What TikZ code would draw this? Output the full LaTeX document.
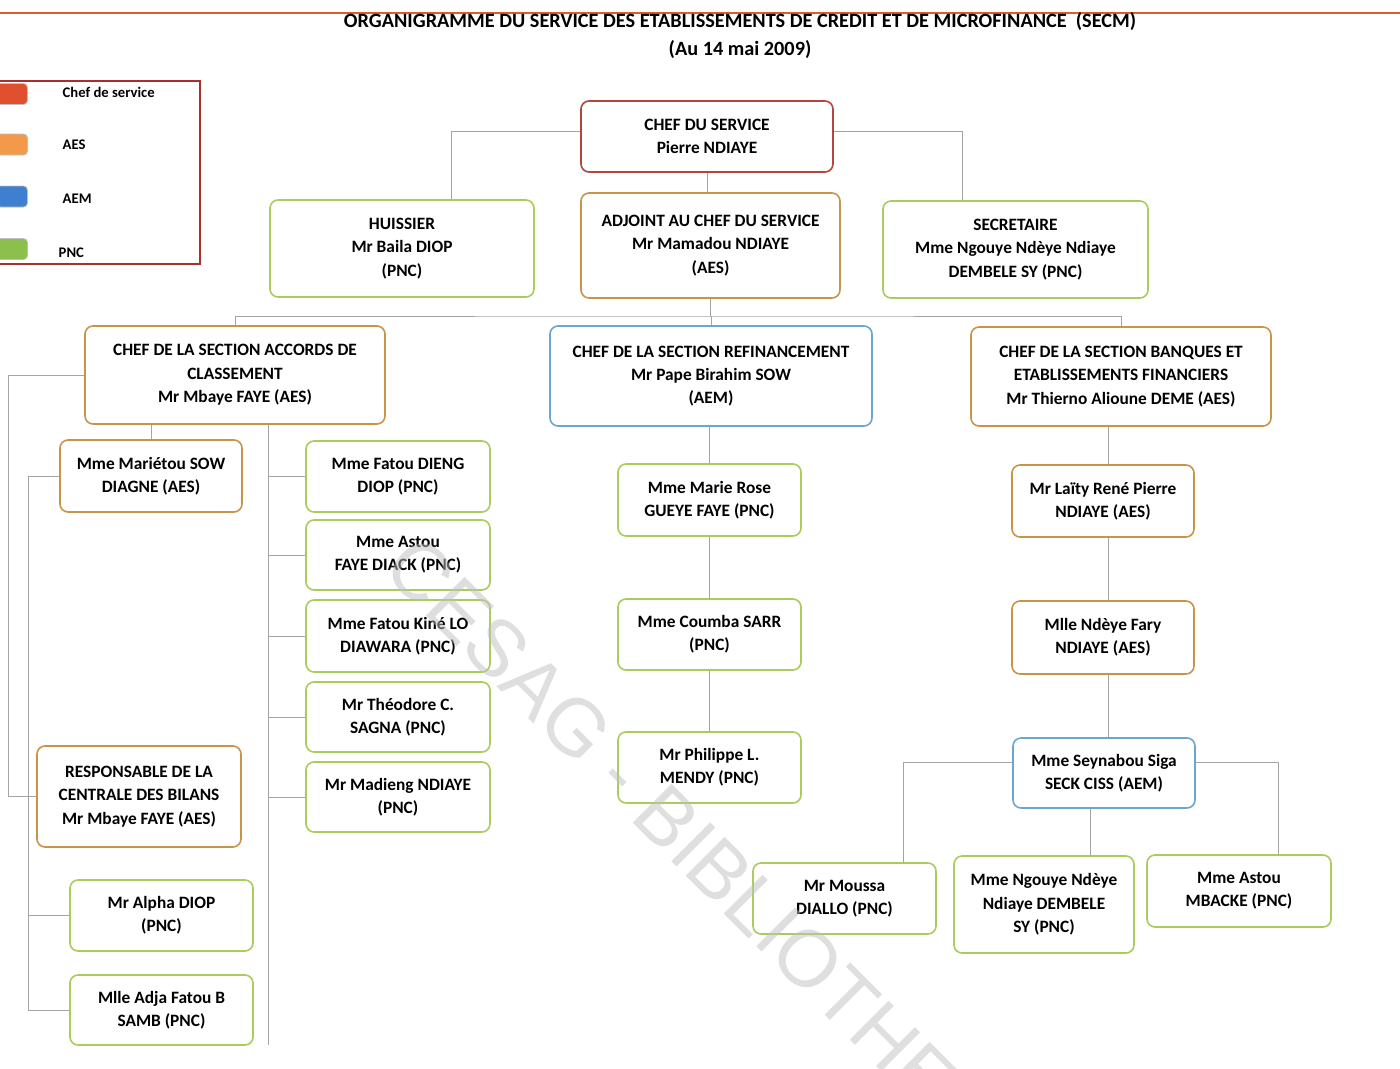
\documentclass[tikz,border=0pt]{standalone}
\usepackage{fontspec}
\setmainfont{Carlito}
\newfontfamily\wmfont{Liberation Sans}
\usepackage{tikz}
\definecolor{chefred}{HTML}{B4443E}
\definecolor{aesgold}{HTML}{C8944A}
\definecolor{aemblue}{HTML}{69A7CF}
\definecolor{pncgreen}{HTML}{A9CC5C}
\definecolor{keyred}{HTML}{E0502E}
\definecolor{keyorange}{HTML}{F2994A}
\definecolor{keyblue}{HTML}{3F7FD0}
\definecolor{keygreen}{HTML}{8CBF4C}
\definecolor{legendred}{HTML}{A8302C}
\definecolor{rulered}{HTML}{E25B2B}
\definecolor{linkgray}{HTML}{A5A5A5}
\newcommand\boxfont{\fontsize{13}{17.5}\selectfont\bfseries}

\begin{document}
\begin{tikzpicture}[x=0.75pt,y=-0.75pt,
    box/.style={draw,fill=white,rounded corners=6pt,line width=1.2pt,
      align=center,font=\boxfont,inner sep=2pt},
    wh/.style 2 args={minimum width=#1*0.75pt,minimum height=#2*0.75pt},
    chefbox/.style={box,draw=chefred},
    aesbox/.style={box,draw=aesgold},
    aembox/.style={box,draw=aemblue},
    pncbox/.style={box,draw=pncgreen},
    link/.style={draw=linkgray,line width=0.6pt},
    swatch/.style={rounded corners=3pt,draw=black!25,line width=0.6pt,wh={31}{21}},
    keytext/.style={anchor=west,font=\fontsize{11}{13}\selectfont\bfseries}]
  \useasboundingbox (0,0) rectangle (1400,1068);
  \draw[rulered,line width=2pt] (0,13) -- (1400,13);
  \node[font=\fontsize{15.2}{21}\selectfont\bfseries,align=center] (title) at (740,36)
    {ORGANIGRAMME DU SERVICE DES ETABLISSEMENTS DE CREDIT ET DE MICROFINANCE~~(SECM)\\(Au 14 mai 2009)};

  % legende
  \draw[legendred,line width=1.6pt] (-5,81) rectangle (200,264);
  \node[swatch,fill=keyred]    (kchef) at (12,94)    {};
  \node[swatch,fill=keyorange] (kaes)  at (12,144.5) {};
  \node[swatch,fill=keyblue]   (kaem)  at (12,196.5) {};
  \node[swatch,fill=keygreen]  (kpnc)  at (12,249)   {};
  \node[keytext] (lchef) at (58,92)  {Chef de service};
  \node[keytext] (laes)  at (58,145) {AES};
  \node[keytext] (laem)  at (58,199) {AEM};
  \node[keytext] (lpnc)  at (54,253) {PNC};

  % direction
  \node[chefbox,wh={252}{71}]  (chef)       at (707,136.5)  {CHEF DU SERVICE\\Pierre NDIAYE};
  \node[pncbox,wh={264}{97}]   (huissier)   at (402,248.5)  {HUISSIER\\Mr Baila DIOP\\(PNC)};
  \node[aesbox,wh={259}{105}]  (adjoint)    at (710.5,245.5) {ADJOINT AU CHEF DU SERVICE\\Mr Mamadou NDIAYE\\(AES)};
  \node[pncbox,wh={265}{97}]   (secretaire) at (1015.5,249.5) {SECRETAIRE\\Mme Ngouye Ndèye Ndiaye\\DEMBELE SY (PNC)};

  % sections
  \node[aesbox,wh={300}{98}]  (accords) at (235,375)    {CHEF DE LA SECTION ACCORDS DE\\CLASSEMENT\\Mr Mbaye FAYE (AES)};
  \node[aembox,wh={322}{100}] (refin)   at (711,376)    {CHEF DE LA SECTION REFINANCEMENT\\Mr Pape Birahim SOW\\(AEM)};
  \node[aesbox,wh={300}{99}]  (banques) at (1121,376.5) {CHEF DE LA SECTION BANQUES ET\\ETABLISSEMENTS FINANCIERS\\Mr Thierno Alioune DEME (AES)};

  % section accords de classement
  \node[aesbox,wh={182}{72}]  (mariet)  at (151,476)    {Mme Mariétou SOW\\DIAGNE (AES)};
  \node[aesbox,wh={204}{101}] (resp)    at (139,796.5)  {RESPONSABLE DE LA\\CENTRALE DES BILANS\\Mr Mbaye FAYE (AES)};
  \node[pncbox,wh={183}{71}]  (alpha)   at (161.5,915.5) {Mr Alpha DIOP\\(PNC)};
  \node[pncbox,wh={183}{70}]  (adja)    at (161.5,1010) {Mlle Adja Fatou B\\SAMB (PNC)};
  \node[pncbox,wh={184}{71}]  (dieng)   at (398,476.5)  {Mme Fatou DIENG\\DIOP (PNC)};
  \node[pncbox,wh={184}{70}]  (diack)   at (398,555)    {Mme Astou\\FAYE DIACK (PNC)};
  \node[pncbox,wh={184}{72}]  (diawara) at (398,636)    {Mme Fatou Kiné LO\\DIAWARA (PNC)};
  \node[pncbox,wh={184}{70}]  (sagna)   at (398,717)    {Mr Théodore C.\\SAGNA (PNC)};
  \node[pncbox,wh={184}{70}]  (madieng) at (398,797)    {Mr Madieng NDIAYE\\(PNC)};

  % section refinancement
  \node[pncbox,wh={183}{72}] (marie)    at (709.5,500)   {Mme Marie Rose\\GUEYE FAYE (PNC)};
  \node[pncbox,wh={183}{71}] (coumba)   at (709.5,634.5) {Mme Coumba SARR\\(PNC)};
  \node[pncbox,wh={183}{71}] (philippe) at (709.5,767.5) {Mr Philippe L.\\MENDY (PNC)};

  % section banques
  \node[aesbox,wh={182}{72}] (laity)  at (1103,501)   {Mr Laïty René Pierre\\NDIAYE (AES)};
  \node[aesbox,wh={182}{73}] (fary)   at (1103,637.5) {Mlle Ndèye Fary\\NDIAYE (AES)};
  \node[aembox,wh={182}{70}] (seyn)   at (1104,773)   {Mme Seynabou Siga\\SECK CISS (AEM)};
  \node[pncbox,wh={183}{71}] (moussa) at (844.5,898.5) {Mr Moussa\\DIALLO (PNC)};
  \node[pncbox,wh={180}{97}] (ngouye) at (1044,904.5) {Mme Ngouye Ndèye\\Ndiaye DEMBELE\\SY (PNC)};
  \node[pncbox,wh={184}{72}] (astou)  at (1239,891)   {Mme Astou\\MBACKE (PNC)};

  % liaisons
  \coordinate (jH) at (451,131);
  \coordinate (jS) at (962,131);
  \coordinate (bus) at (710,316);
  \coordinate (jR) at (8,377);
  \coordinate (jM) at (28,0);
  \coordinate (jA) at (268,1045);
  \coordinate (jB) at (1108,0);
  \coordinate (jMo) at (903,762);
  \coordinate (jAs) at (1278,762);
  \coordinate (jN) at (1090,0);
  \begin{scope}[link]
    \draw (chef.west|-jH) -- (jH) -- (jH|-huissier.north);
    \draw (chef.east|-jS) -- (jS) -- (jS|-secretaire.north);
    \draw (chef.south) -- (chef.south|-adjoint.north);
    \draw (adjoint.south) -- (adjoint.south|-bus);
    \draw (accords.north) |- (bus) -| (banques.north);
    \draw (refin.north) -- (refin.north|-bus);
    % accords
    \draw (accords.west) -- (accords.west-|jR) |- (resp.west);
    \draw (accords.south-|mariet.north) -- (mariet.north);
    \draw (mariet.west) -- (mariet.west-|jM) |- (adja.west);
    \draw (alpha.west) -- (alpha.west-|jM);
    \draw (accords.south-|jA) -- (jA);
    \foreach \nm in {dieng,diack,diawara,sagna,madieng}
      \draw (\nm.west) -- (\nm.west-|jA);
    % refinancement
    \draw (marie.north|-refin.south) -- (marie.north);
    \draw (marie.south) -- (coumba.north);
    \draw (coumba.south) -- (philippe.north);
    % banques
    \draw (jB|-banques.south) -- (jB|-laity.north);
    \draw (jB|-laity.south) -- (jB|-fary.north);
    \draw (jB|-fary.south) -- (jB|-seyn.north);
    \draw (seyn.west|-jMo) -- (jMo) -- (jMo|-moussa.north);
    \draw (seyn.east|-jAs) -- (jAs) -- (jAs|-astou.north);
    \draw (jN|-seyn.south) -- (jN|-ngouye.north);
  \end{scope}

  % filigrane
  \node[rotate=-45,anchor=base west,text=gray!50,opacity=0.5,inner sep=0pt,
    font=\wmfont\fontsize{60}{60}\selectfont] (wm) at (380,570) {CESAG - BIBLIOTHEQUE};
\end{tikzpicture}
\end{document}
